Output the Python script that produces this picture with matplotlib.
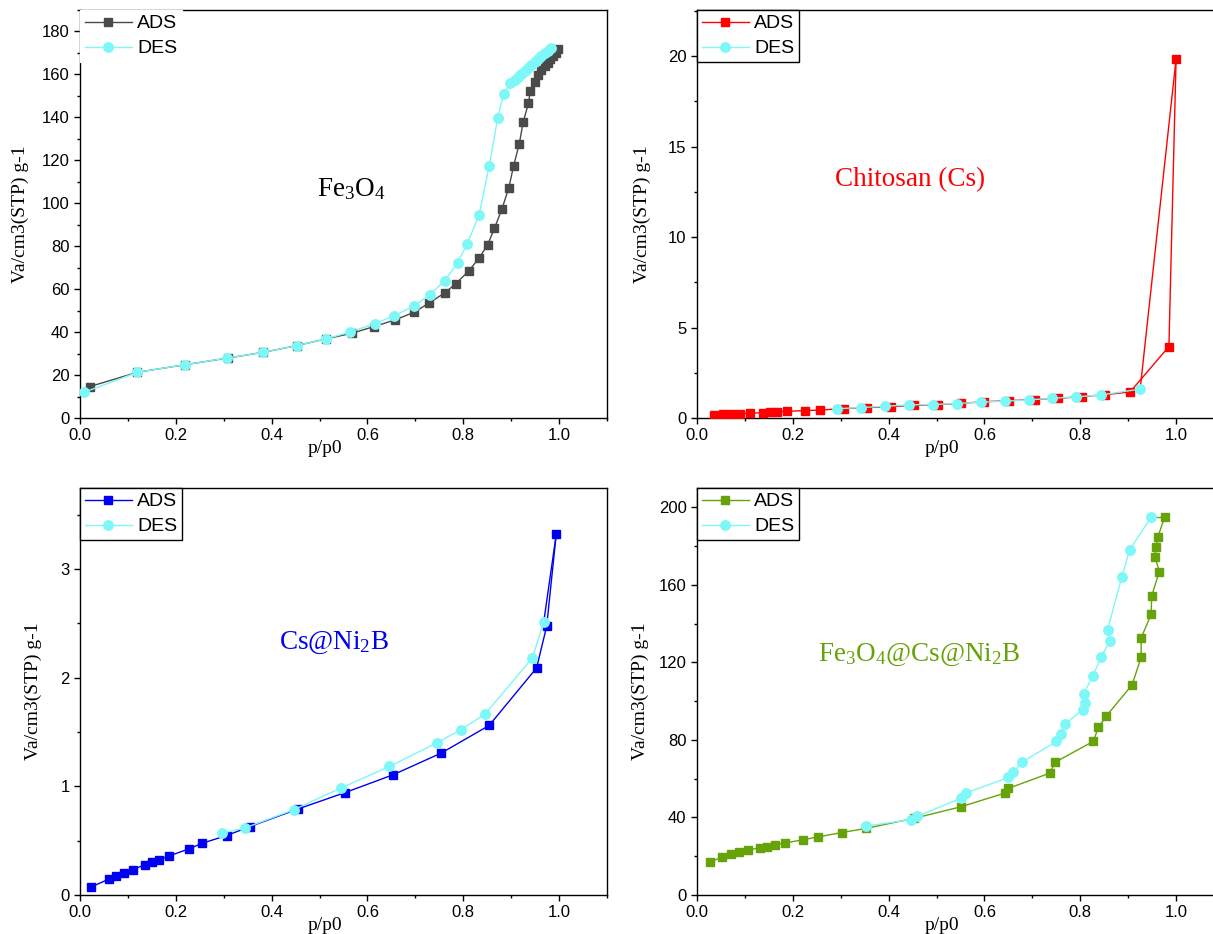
import matplotlib
matplotlib.use('Agg')
import matplotlib.pyplot as plt
from matplotlib.ticker import MultipleLocator, FormatStrFormatter

plt.rcParams['font.family'] = ['Liberation Sans', 'DejaVu Sans']
plt.rcParams['mathtext.fontset'] = 'custom'
plt.rcParams['mathtext.rm'] = 'Liberation Serif'
plt.rcParams['mathtext.it'] = 'Liberation Serif:italic'

# ---------------- data ----------------
# Fe3O4
fe_ads_x = [0.020, 0.120, 0.219, 0.308, 0.383, 0.452, 0.513, 0.568, 0.614, 0.658, 0.698, 0.728,
            0.761, 0.784, 0.812, 0.833, 0.851, 0.865, 0.881, 0.895, 0.905, 0.917, 0.925, 0.936,
            0.940, 0.949, 0.956, 0.963, 0.970, 0.977, 0.982, 0.988, 0.993, 0.998]
fe_ads_y = [14.6, 21.3, 24.8, 27.9, 30.6, 33.7, 36.8, 39.5, 42.6, 45.7, 49.3, 53.5,
            58.2, 62.5, 68.6, 74.5, 80.7, 88.3, 97.5, 107.2, 117.3, 127.8, 137.8, 146.5,
            152.3, 156.5, 159.6, 162.1, 163.9, 165.5, 167.0, 168.6, 170.1, 171.7]
fe_des_x = [0.984, 0.977, 0.970, 0.963, 0.956, 0.949, 0.942, 0.935, 0.928, 0.921, 0.914, 0.907,
            0.898, 0.884, 0.872, 0.854, 0.833, 0.808, 0.788, 0.761, 0.730, 0.698, 0.656, 0.615,
            0.563, 0.513, 0.452, 0.383, 0.306, 0.219, 0.120, 0.008]
fe_des_y = [172.5, 171.1, 169.8, 168.4, 167.0, 165.7, 164.3, 163.0, 161.6, 160.3, 158.9, 157.6,
            156.1, 150.7, 139.8, 117.3, 94.4, 81.0, 72.2, 63.9, 57.4, 52.3, 47.6, 43.9,
            40.0, 36.8, 33.7, 30.6, 27.9, 24.8, 21.3, 11.9]

# Chitosan
cs_ads_x = [0.035, 0.055, 0.072, 0.090, 0.110, 0.138, 0.152, 0.166, 0.187, 0.226, 0.257, 0.306,
            0.355, 0.404, 0.453, 0.502, 0.551, 0.600, 0.652, 0.705, 0.754, 0.803, 0.852, 0.904,
            0.985, 1.000]
cs_ads_y = [0.18, 0.20, 0.22, 0.24, 0.26, 0.30, 0.31, 0.33, 0.37, 0.41, 0.44, 0.52,
            0.57, 0.63, 0.70, 0.74, 0.81, 0.90, 0.96, 1.02, 1.09, 1.18, 1.29, 1.44,
            3.95, 19.85]
cs_des_x = [0.925, 0.843, 0.792, 0.742, 0.693, 0.642, 0.593, 0.542, 0.493, 0.443, 0.392, 0.343, 0.292]
cs_des_y = [1.60, 1.27, 1.17, 1.09, 1.00, 0.93, 0.875, 0.80, 0.745, 0.73, 0.645, 0.58, 0.51]

# Cs@Ni2B
ni_ads_x = [0.022, 0.061, 0.075, 0.091, 0.111, 0.136, 0.151, 0.165, 0.185, 0.227, 0.255, 0.306,
            0.355, 0.454, 0.553, 0.654, 0.754, 0.854, 0.953, 0.974, 0.994]
ni_ads_y = [0.071, 0.148, 0.178, 0.200, 0.234, 0.280, 0.300, 0.326, 0.357, 0.424, 0.476, 0.547,
            0.630, 0.790, 0.942, 1.107, 1.306, 1.560, 2.089, 2.471, 3.318]
ni_des_x = [0.968, 0.944, 0.846, 0.795, 0.745, 0.646, 0.545, 0.446, 0.345, 0.296]
ni_des_y = [2.514, 2.180, 1.667, 1.520, 1.401, 1.183, 0.985, 0.784, 0.618, 0.569]

# Fe3O4@Cs@Ni2B
fcn_ads_x = [0.0265, 0.052, 0.072, 0.087, 0.107, 0.131, 0.147, 0.163, 0.183, 0.222, 0.253, 0.302,
             0.352, 0.452, 0.551, 0.642, 0.650, 0.737, 0.747, 0.827, 0.838, 0.854, 0.908, 0.927,
             0.927, 0.948, 0.949, 0.965, 0.956, 0.958, 0.962, 0.976]
fcn_ads_y = [16.8, 19.7, 21.1, 22.0, 23.2, 24.4, 25.0, 25.9, 26.8, 28.5, 30.0, 32.2,
             34.3, 39.5, 45.5, 52.5, 55.0, 62.9, 68.4, 79.2, 86.5, 92.2, 108.3, 122.5,
             132.5, 144.8, 154.2, 166.8, 174.3, 179.6, 184.6, 194.9]
fcn_des_x = [0.948, 0.903, 0.887, 0.857, 0.862, 0.843, 0.826, 0.807, 0.809, 0.805, 0.769, 0.760,
             0.750, 0.679, 0.660, 0.650, 0.562, 0.550, 0.459, 0.447, 0.352]
fcn_des_y = [194.9, 177.9, 164.2, 136.8, 131.1, 122.5, 112.8, 103.7, 99.1, 95.6, 88.3, 83.1,
             79.2, 68.6, 63.2, 60.6, 52.7, 49.8, 40.5, 38.9, 35.5]

legend_labels = ['ADS', 'DES']
x_label = 'p/p0'
y_label = 'Va/cm3(STP) g-1'

DES_COLOR = '#7DF7F7'

panels = [
    dict(ads=(fe_ads_x, fe_ads_y), des=(fe_des_x, fe_des_y), color='#4A4A4A',
         title=r'$\mathrm{Fe_3O_4}$', tcolor='black', tpos=(0.515, 0.56),
         ymax=190, major=20, minor=10, rect=(80, 10, 418), frame=False, ylx=-0.114),
    dict(ads=(cs_ads_x, cs_ads_y), des=(cs_des_x, cs_des_y), color='#FF0000',
         title='Chitosan (Cs)', tcolor='#FF0000', tpos=(0.405, 0.585),
         ymax=22.55, major=5, minor=2.5, rect=(697, 10, 418), frame=True, ylx=-0.104),
    dict(ads=(ni_ads_x, ni_ads_y), des=(ni_des_x, ni_des_y), color='#0000F0',
         title=r'$\mathrm{Cs@Ni_2B}$', tcolor='#0000F0', tpos=(0.482, 0.62),
         ymax=3.745, major=1, minor=0.5, rect=(80, 488, 895), frame=True, ylx=-0.089),
    dict(ads=(fcn_ads_x, fcn_ads_y), des=(fcn_des_x, fcn_des_y), color='#66A30A',
         title=r'$\mathrm{Fe_3O_4@Cs@Ni_2B}$', tcolor='#66A30A', tpos=(0.422, 0.59),
         ymax=209.9, major=40, minor=20, rect=(697, 488, 895), frame=True, ylx=-0.108),
]

W, H = 1213, 934
fig = plt.figure(figsize=(W / 100, H / 100), dpi=100)

for p in panels:
    left, top, bottom = p['rect']
    ax = fig.add_axes([left / W, 1 - bottom / H, 527 / W, (bottom - top) / H])
    ax.set_xlim(0, 1.1)
    ax.set_ylim(0, p['ymax'])
    ax_x, ax_y = p['ads']
    de_x, de_y = p['des']
    ax.plot(ax_x, ax_y, '-s', color=p['color'], lw=1.0, ms=5.8, label=legend_labels[0], zorder=3)
    ax.plot([ax_x[-1], de_x[0]], [ax_y[-1], de_y[0]], '-', color=p['color'], lw=1.0, zorder=3)
    ax.plot(de_x, de_y, '-o', color=DES_COLOR, lw=1.0, ms=6.8, label=legend_labels[1], zorder=4)

    ax.xaxis.set_major_locator(MultipleLocator(0.2))
    ax.xaxis.set_minor_locator(MultipleLocator(0.1))
    ax.yaxis.set_major_locator(MultipleLocator(p['major']))
    ax.yaxis.set_minor_locator(MultipleLocator(p['minor']))
    ax.xaxis.set_major_formatter(FormatStrFormatter('%.1f'))
    ax.tick_params(which='major', direction='out', length=4.5, width=1.0, labelsize=12, pad=3)
    ax.tick_params(which='minor', direction='out', length=2.5, width=1.0)
    ax.tick_params(top=False, right=False)
    for s in ax.spines.values():
        s.set_linewidth(1.0)

    ax.set_xlabel(x_label, family='Liberation Serif', fontsize=14, va='center')
    ax.xaxis.set_label_coords(0.465, -0.074)
    ax.set_ylabel(y_label, family='Liberation Serif', fontsize=14, va='center')
    ax.yaxis.set_label_coords(p['ylx'], 0.5)

    ax.text(p['tpos'][0], p['tpos'][1], p['title'], transform=ax.transAxes, ha='center',
            va='center', fontsize=19.5, color=p['tcolor'], family='Liberation Serif')

    leg = ax.legend(loc='upper left', bbox_to_anchor=(0, 1), borderaxespad=0, fontsize=14,
                    handlelength=2.4, handletextpad=0.3, labelspacing=0.38, borderpad=0.25,
                    fancybox=False, framealpha=1, frameon=True)
    fr = leg.get_frame()
    fr.set_linewidth(1.0)
    fr.set_edgecolor('black' if p['frame'] else 'white')

fig.savefig('out.png', dpi=100)
